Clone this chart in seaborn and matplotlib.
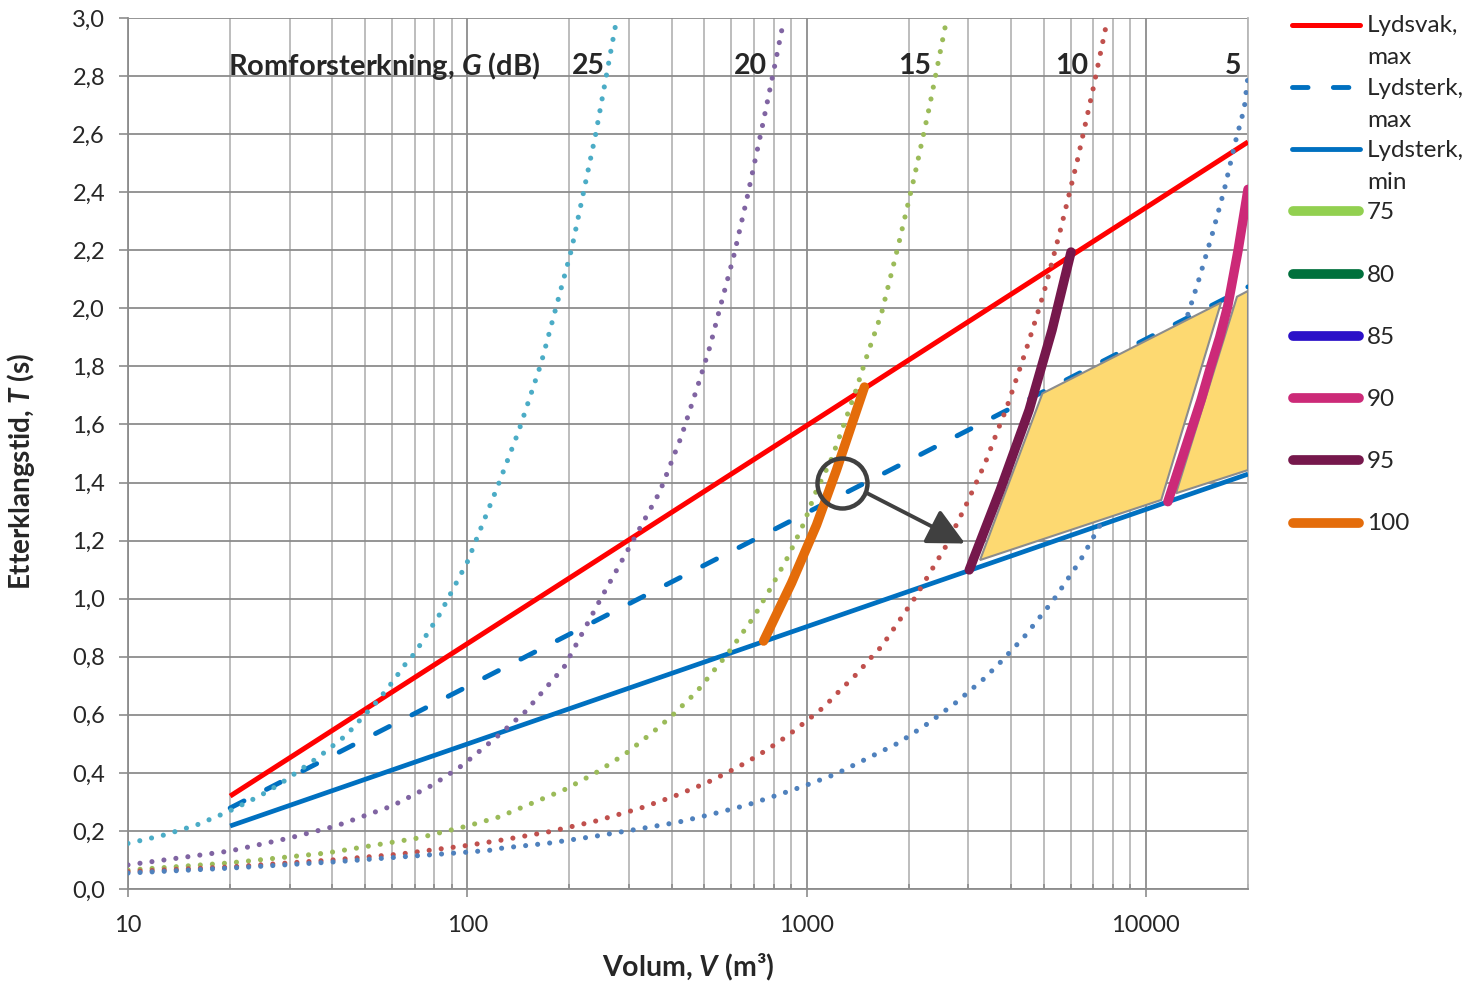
import matplotlib
matplotlib.use("Agg")
import matplotlib.pyplot as plt
import seaborn as sns
from matplotlib.ticker import FixedLocator, NullFormatter, LogLocator

# ---------------- data ----------------
V_LINE = [20, 20000]
T_LYDSVAK_MAX = [0.32, 2.573]
T_LYDSTERK_MAX = [0.279, 2.074]
T_LYDSTERK_MIN = [0.217, 1.429]

# G-curves (Romforsterkning, dB)
V_G25 = [10, 12.6, 15.9, 19.7, 24.4, 28, 36.5, 44, 49, 54.7, 60, 66, 70, 83, 100, 123, 142, 165, 203, 239, 276]
T_G25 = [0.157, 0.184, 0.22, 0.266, 0.32, 0.361, 0.455, 0.53, 0.59, 0.651, 0.711, 0.778, 0.812, 0.947, 1.126,
         1.388, 1.58, 1.81, 2.204, 2.60, 3.0]
V_G20 = [10, 20, 30, 41, 60, 79, 97, 123, 148, 193, 249, 303, 369, 427, 483, 519, 550, 610, 667, 737, 799, 849]
T_G20 = [0.083, 0.131, 0.176, 0.217, 0.286, 0.358, 0.427, 0.527, 0.61, 0.765, 1.006, 1.185, 1.367, 1.557, 1.75,
         1.868, 1.982, 2.18, 2.378, 2.615, 2.815, 2.97]
V_G15 = [10, 20, 38.5, 72, 100, 124, 195, 239, 292, 353, 398, 475, 550, 582, 699, 787, 884, 982, 1058, 1187,
         1286, 1393, 1499, 1663, 1865, 2078, 2300, 2563]
T_G15 = [0.065, 0.09, 0.124, 0.176, 0.217, 0.248, 0.344, 0.40, 0.465, 0.541, 0.593, 0.68, 0.772, 0.806, 0.937,
         1.04, 1.147, 1.26, 1.36, 1.484, 1.598, 1.712, 1.829, 1.983, 2.218, 2.453, 2.692, 2.971]
V_G10 = [10, 20, 40, 63, 100, 127, 174, 239, 323, 404, 506, 582, 667, 768, 877, 993, 1128, 1259, 1412, 1565,
         1663, 2078, 2558, 2945, 3360, 3662, 3881, 4305, 4519, 4864, 5080, 5623, 6295, 6982, 7690]
T_G10 = [0.06, 0.076, 0.10, 0.12, 0.15, 0.169, 0.197, 0.234, 0.278, 0.318, 0.365, 0.40, 0.437, 0.481, 0.527,
         0.576, 0.628, 0.686, 0.743, 0.803, 0.835, 1.0, 1.175, 1.32, 1.467, 1.581, 1.655, 1.811, 1.886, 2.006,
         2.081, 2.278, 2.514, 2.753, 2.991]
V_G5 = [10, 20, 40, 63, 100, 118, 127, 174, 239, 306, 418, 527, 667, 838, 968, 1220, 1499, 1865, 2285, 2762,
        3316, 3713, 4375, 5340, 6397, 7480, 13330, 14320, 15670, 17040, 18310, 19500, 20000]
T_G5 = [0.055, 0.072, 0.093, 0.11, 0.127, 0.134, 0.141, 0.158, 0.182, 0.203, 0.23, 0.258, 0.289, 0.327, 0.352,
        0.396, 0.448, 0.503, 0.571, 0.643, 0.722, 0.779, 0.868, 0.995, 1.13, 1.271, 1.982, 2.098, 2.253, 2.41,
        2.568, 2.689, 2.80]

# Thick level lines
V_100 = [747, 903, 1070, 1225, 1357, 1481]
T_100 = [0.854, 1.054, 1.254, 1.443, 1.598, 1.729]
V_95 = [3016, 3721, 4529, 5290, 6018]
T_95 = [1.099, 1.374, 1.650, 1.925, 2.194]
V_90 = [11610, 13000, 14540, 15520, 16500, 17420, 18700, 20000]
T_90 = [1.334, 1.51, 1.684, 1.799, 1.90, 2.006, 2.20, 2.41]

# Shaded areas
V_AREA1 = [3245, 4955, 16660, 11100]
T_AREA1 = [1.133, 1.707, 2.02, 1.34]
V_AREA2 = [12270, 18560, 20000, 20000]
T_AREA2 = [1.363, 2.04, 2.06, 1.443]

# Annotation (circle + arrow)
V_CIRCLE, T_CIRCLE = 1270, 1.397
V_ARROW_FROM, T_ARROW_FROM = 1504, 1.364
V_ARROW_TO, T_ARROW_TO = 2931, 1.19

G_LABELS = ["25", "20", "15", "10", "5"]
G_LABEL_V = [227, 685, 2078, 6040, 18050]
G_LABEL_T = 2.835

Y_TICKS = [0.0, 0.2, 0.4, 0.6, 0.8, 1.0, 1.2, 1.4, 1.6, 1.8, 2.0, 2.2, 2.4, 2.6, 2.8, 3.0]
Y_TICK_LABELS = ["0,0", "0,2", "0,4", "0,6", "0,8", "1,0", "1,2", "1,4", "1,6", "1,8", "2,0", "2,2", "2,4",
                 "2,6", "2,8", "3,0"]
X_TICKS = [10, 100, 1000, 10000]
X_TICK_LABELS = ["10", "100", "1000", "10000"]

LEGEND_LABELS = ["Lydsvak,\nmax", "Lydsterk,\nmax", "Lydsterk,\nmin", "75", "80", "85", "90", "95", "100"]

# ---------------- style ----------------
sns.set_theme(style="white")
plt.rcParams["font.family"] = ["Lato", "DejaVu Sans"]
plt.rcParams["mathtext.fontset"] = "custom"
plt.rcParams["mathtext.it"] = "Lato:italic:bold"
plt.rcParams["mathtext.rm"] = "Lato:bold"
plt.rcParams["mathtext.bf"] = "Lato:bold"

W, H = 1468, 986
fig = plt.figure(figsize=(W / 100, H / 100), dpi=100)
ax = fig.add_axes([128 / W, 1 - 889 / H, 1120 / W, 871 / H])
ax.set_xscale("log")

C_RED = "#ff0000"
C_BLUE = "#0070c0"
dot_ls = (0, (0.001, 2.35))

# straight criteria lines
sns.lineplot(x=V_LINE, y=T_LYDSVAK_MAX, ax=ax, color=C_RED, linewidth=3.6, errorbar=None, zorder=3,
             solid_capstyle="butt")
sns.lineplot(x=V_LINE, y=T_LYDSTERK_MAX, ax=ax, color=C_BLUE, linewidth=3.5, errorbar=None, zorder=3,
             linestyle=(0, (3.2, 5.2)), dash_capstyle="round")
sns.lineplot(x=V_LINE, y=T_LYDSTERK_MIN, ax=ax, color=C_BLUE, linewidth=3.4, errorbar=None, zorder=3,
             solid_capstyle="butt")

# dotted G curves
for v, t, c in [(V_G25, T_G25, "#4bacc6"), (V_G20, T_G20, "#8064a2"), (V_G15, T_G15, "#9bbb59"),
                (V_G10, T_G10, "#c0504d"), (V_G5, T_G5, "#4f81bd")]:
    sns.lineplot(x=v, y=t, ax=ax, color=c, linewidth=3.7, linestyle=dot_ls, dash_capstyle="round",
                 errorbar=None, zorder=4)

# shaded areas
ax.fill(V_AREA1, T_AREA1, facecolor="#fdd971", edgecolor="#8c8c8c", linewidth=1.5, zorder=5)
ax.fill(V_AREA2, T_AREA2, facecolor="#fdd971", edgecolor="#8c8c8c", linewidth=1.5, zorder=5)

# thick level lines
for v, t, c in [(V_100, T_100, "#e46c0a"), (V_95, T_95, "#76184c"), (V_90, T_90, "#cc2a78")]:
    sns.lineplot(x=v, y=t, ax=ax, color=c, linewidth=6.8, solid_capstyle="round", solid_joinstyle="round",
                 errorbar=None, zorder=6, sort=False)

# circle + arrow
ax.plot([V_CIRCLE], [T_CIRCLE], marker="o", markersize=36, markerfacecolor="none",
        markeredgecolor="#404040", markeredgewidth=3.2, zorder=7)
ax.annotate("", xy=(V_ARROW_TO, T_ARROW_TO), xytext=(V_ARROW_FROM, T_ARROW_FROM),
            arrowprops=dict(arrowstyle="-|>,head_length=0.6,head_width=0.3", color="#404040", lw=2.8,
                            shrinkA=0, shrinkB=0, mutation_scale=38), zorder=7)

# G labels
ax.text(19.7, G_LABEL_T, r"Romforsterkning, $G$ (dB)", fontsize=21, fontweight="bold", ha="left",
        va="center", zorder=8)
for lab, v in zip(G_LABELS, G_LABEL_V):
    ax.text(v, G_LABEL_T, lab, fontsize=20.5, fontweight="bold", ha="center", va="center", zorder=8)

# axes
ax.set_xlim(10, 20000)
ax.set_ylim(0, 3.0)
ax.xaxis.set_major_locator(FixedLocator(X_TICKS))
ax.set_xticklabels(X_TICK_LABELS)
ax.xaxis.set_minor_locator(LogLocator(base=10, subs=range(2, 10), numticks=20))
ax.xaxis.set_minor_formatter(NullFormatter())
ax.set_yticks(Y_TICKS)
ax.set_yticklabels(Y_TICK_LABELS)

ax.grid(which="major", axis="y", color="#8c8c8c", linewidth=1.3, zorder=0)
ax.grid(which="major", axis="x", color="#8c8c8c", linewidth=1.3, zorder=0)
ax.grid(which="minor", axis="x", color="#b8b8b8", linewidth=1.3, zorder=0)
ax.set_axisbelow(True)

for s in ["left", "bottom"]:
    ax.spines[s].set_color("#8c8c8c")
    ax.spines[s].set_linewidth(1.3)
ax.spines["top"].set_visible(False)
ax.spines["right"].set_color("#b8b8b8")
ax.spines["right"].set_linewidth(1.3)

ax.tick_params(axis="y", which="major", direction="out", length=6.5, width=1.2, color="#8c8c8c",
               labelsize=17, pad=10, left=True)
ax.tick_params(axis="x", which="major", direction="out", length=6, width=1.2, color="#8c8c8c",
               labelsize=17, pad=13, bottom=True)
ax.tick_params(axis="x", which="minor", direction="in", length=3.5, width=1.2, color="#8c8c8c",
               bottom=True)

ax.set_ylabel(r"Etterklangstid, $T$ (s)", fontsize=20, fontweight="bold")
ax.yaxis.set_label_coords(-0.081, 0.479)
ax.set_xlabel("Volum, $V$ (m³)", fontsize=20.5, fontweight="bold")
ax.xaxis.set_label_coords(0.5, -0.072)

# legend (drawn in pixel space on an overlay)
lax = fig.add_axes([0, 0, 1, 1], zorder=10)
lax.set_xlim(0, W)
lax.set_ylim(H, 0)
lax.axis("off")
leg_styles = [
    dict(color=C_RED, lw=3.6, ls="-", solid_capstyle="round"),
    dict(color=C_BLUE, lw=3.5, ls=(0, (3.2, 5.2)), dash_capstyle="round"),
    dict(color=C_BLUE, lw=3.5, ls="-", solid_capstyle="round"),
    dict(color="#92d050", lw=7, ls="-", solid_capstyle="round"),
    dict(color="#00703c", lw=7, ls="-", solid_capstyle="round"),
    dict(color="#2b10c8", lw=7, ls="-", solid_capstyle="round"),
    dict(color="#cc2a78", lw=7, ls="-", solid_capstyle="round"),
    dict(color="#76184c", lw=7, ls="-", solid_capstyle="round"),
    dict(color="#e46c0a", lw=7, ls="-", solid_capstyle="round"),
]
for i, (lab, st) in enumerate(zip(LEGEND_LABELS, leg_styles)):
    y0 = 24.5 + 62.25 * i
    thick = st["lw"] > 5
    x0, x1 = (1293, 1359) if thick else (1292, 1360)
    lax.plot([x0, x1], [y0, y0], **st)
    for j, line in enumerate(lab.split("\n")):
        lax.text(1367, y0 + 8 + 32 * j, line, fontsize=17.5, ha="left", va="baseline")

fig.savefig("out.png", dpi=100)
